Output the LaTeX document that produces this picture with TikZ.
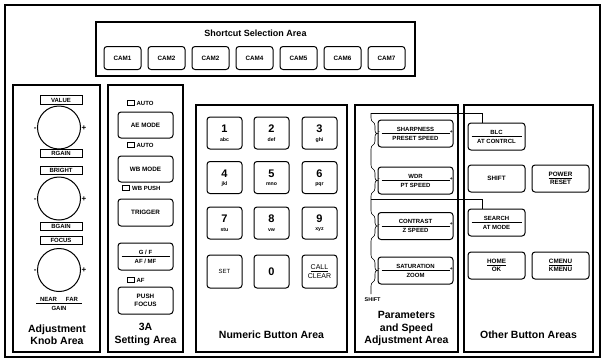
\documentclass[tikz,border=0pt]{standalone}
\usepackage{fontspec}
\setmainfont{Liberation Sans}
\usetikzlibrary{positioning}

\tikzset{
  area/.style={draw, line width=1.7pt},
  btn/.style={draw, rounded corners=3pt, line width=1pt, inner sep=0pt, align=center,
    font=\fontsize{6.3}{7.5}\selectfont\bfseries},
  tag/.style={draw, line width=1pt, inner sep=0pt, minimum width=42pt, minimum height=8.5pt,
    font=\fontsize{6}{6}\selectfont\bfseries},
  knob/.style={draw, circle, line width=1pt, minimum size=43pt, inner sep=0pt},
  title/.style={font=\fontsize{10.5}{12.5}\selectfont\bfseries, align=center, inner sep=0pt},
  small/.style={font=\fontsize{6}{6.5}\selectfont\bfseries, inner sep=0.5pt, align=center},
  sign/.style={font=\fontsize{8}{8}\selectfont\bfseries, inner sep=0.3pt},
  led/.style={draw, line width=0.8pt, minimum width=7pt, minimum height=5pt, inner sep=0pt},
  link/.style={line width=0.6pt},
}

% button with a ruled two-part label
\newcommand{\fracbtn}[5]{%
  \node[btn, minimum width=#3, minimum height=27pt] (#1) at (#2) {};
  \draw[line width=0.7pt] ([xshift=4pt]#1.west) -- ([xshift=-4pt]#1.east);
  \node[small, anchor=south] (#1top) at ([yshift=1.5pt]#1.center) {#4};
  \node[small, anchor=north] (#1bot) at ([yshift=-1.8pt]#1.center) {#5};
}
% key of the numeric pad
\newcommand{\digitkey}[4]{%
  \node[btn, minimum width=35pt, minimum height=32pt] (#1) at (#2) {};
  \node[font=\fontsize{11}{11}\selectfont\bfseries, inner sep=0pt] (#1d) at ([yshift=4pt]#1.center) {#3};
  \node[font=\fontsize{5.2}{5}\selectfont\bfseries, inner sep=0pt] (#1l) at ([yshift=-7pt]#1.center) {#4};
}

\begin{document}
\begin{tikzpicture}[x=1pt,y=-1pt]
\useasboundingbox (0,0) rectangle (605,362);
\draw[area] (5,5) rectangle (600,357);
% ---------- shortcut selection ----------
\draw[area] (96,22) rectangle (415,76);
\node[title, font=\fontsize{9}{11}\selectfont\bfseries] (sctitle) at (255.5,33) {Shortcut Selection Area};
\foreach \i/\t in {1/CAM1,2/CAM2,3/CAM2,4/CAM4,5/CAM5,6/CAM6,7/CAM7}
  \node[btn, minimum width=37pt, minimum height=23pt] (cam\i) at ({78.5+44*\i},58) {\t};
% ---------- adjustment knobs ----------
\draw[area] (13,85) rectangle (100,352);
\node[tag] (value) at (61,100) {VALUE};
\node[knob] (knobA) at (59,127.5) {};
\node[tag] (rgain) at (61,153.5) {RGAIN};
\node[tag] (bright) at (61,170.5) {BRIGHT};
\node[knob] (knobB) at (59,198.5) {};
\node[tag] (bgain) at (61,226.5) {BGAIN};
\node[tag] (focus) at (61,240.5) {FOCUS};
\node[knob] (knobC) at (59,270) {};
\foreach \k in {knobA,knobB,knobC} {
  \node[sign, anchor=east] (\k minus) at ([yshift=-1.5pt]\k.west) {-};
  \node[sign, anchor=west] (\k plus) at ([yshift=-0.5pt]\k.east) {+};
}
\node[small] (nearfar) at (59,299) {NEAR\hspace{9pt}FAR};
\draw[line width=0.7pt] (36,303.5) -- (82,303.5);
\node[small] (gain) at (59,308.5) {GAIN};
\node[title] (knobtitle) at (57,334.5) {Adjustment\\Knob Area};
% ---------- 3A setting ----------
\draw[area] (108,85) rectangle (183,352);
\node[led] (ledA) at (130.5,103) {};
\node[small, anchor=west] (autoA) at ([xshift=1.5pt]ledA.east) {AUTO};
\node[btn, minimum width=55pt, minimum height=26pt] (aemode) at (145.5,125) {AE MODE};
\node[led] (ledB) at (130.5,145) {};
\node[small, anchor=west] (autoB) at ([xshift=1.5pt]ledB.east) {AUTO};
\node[btn, minimum width=55pt, minimum height=26pt] (wbmode) at (145.5,169) {WB MODE};
\node[led] (ledC) at (126,188) {};
\node[small, anchor=west] (wbpush) at ([xshift=1.5pt]ledC.east) {WB PUSH};
\node[btn, minimum width=55pt, minimum height=27pt] (trigger) at (145.5,212.5) {TRIGGER};
\fracbtn{gfaf}{145.5,256.5}{55pt}{G / F}{AF / MF}
\node[led] (ledD) at (130.5,280) {};
\node[small, anchor=west] (af) at ([xshift=1.5pt]ledD.east) {AF};
\node[btn, minimum width=55pt, minimum height=27pt] (pushfocus) at (145.5,300.5) {PUSH\\FOCUS};
\node[title] (threeatitle) at (145.5,334.5) {3A\\Setting Area};
% ---------- numeric pad ----------
\draw[area] (196,105) rectangle (347,352);
\digitkey{k1}{224.5,133}{1}{abc}
\digitkey{k2}{271.5,133}{2}{def}
\digitkey{k3}{319.5,133}{3}{ghi}
\digitkey{k4}{224.5,177.5}{4}{jkl}
\digitkey{k5}{271.5,177.5}{5}{mno}
\digitkey{k6}{319.5,177.5}{6}{pqr}
\digitkey{k7}{224.5,223}{7}{stu}
\digitkey{k8}{271.5,223}{8}{vw}
\digitkey{k9}{319.5,223}{9}{xyz}
\node[btn, minimum width=35pt, minimum height=33pt, font=\fontsize{6}{7}\selectfont] (set) at (224.5,271.5) {SET};
\node[btn, minimum width=35pt, minimum height=33pt, font=\fontsize{11}{11}\selectfont\bfseries] (k0) at (271.5,271.5) {0};
\node[btn, minimum width=35pt, minimum height=33pt, font=\fontsize{7}{8.5}\selectfont] (call) at (319.5,271.5) {\underline{CALL}\\CLEAR};
\node[title] (numtitle) at (271.5,335) {Numeric Button Area};
% ---------- parameters and speed ----------
\draw[area] (355,105) rectangle (458,352);
\fracbtn{sharp}{415.5,133.5}{75pt}{SHARPNESS}{PRESET SPEED}
\fracbtn{wdr}{415.5,180.5}{75pt}{WDR}{PT SPEED}
\fracbtn{contrast}{415.5,226}{75pt}{CONTRAST}{Z SPEED}
\fracbtn{satur}{415.5,270.5}{75pt}{SATURATION}{ZOOM}
\foreach \b in {sharp,wdr,contrast,satur} {
  \node[small, font=\fontsize{5}{5}\selectfont\bfseries, anchor=west] (\b minus) at ([yshift=0.5pt]\b.west) {-};
  \node[small, font=\fontsize{5}{5}\selectfont\bfseries, anchor=east] (\b plus) at ([yshift=1.5pt]\b.east) {+};
}
\coordinate (brtop) at (371,113);
\coordinate (brmid) at (371,199);
\coordinate (brend) at (371,294);
\draw[link] (brtop) -- (371,118) .. controls (371,123) and (375,121) .. (375,126)
  -- (375,130) .. controls (375,133.5) and (377,133.5) .. (sharp.west)
  .. controls (377,133.5) and (375,133.5) .. (375,137) -- (375,141)
  .. controls (375,146) and (371,144) .. (371,149) -- (371,165)
  .. controls (371,170) and (375,168) .. (375,173) -- (375,177)
  .. controls (375,180.5) and (377,180.5) .. (wdr.west)
  .. controls (377,180.5) and (375,180.5) .. (375,184) -- (375,188)
  .. controls (375,193) and (371,191) .. (371,196) -- (brmid) -- (371,211)
  .. controls (371,216) and (375,214) .. (375,219) -- (375,223)
  .. controls (375,226) and (377,226) .. (contrast.west)
  .. controls (377,226) and (375,226) .. (375,229) -- (375,233)
  .. controls (375,238) and (371,236) .. (371,241) -- (371,255)
  .. controls (371,260) and (375,258) .. (375,263) -- (375,267)
  .. controls (375,270.5) and (377,270.5) .. (satur.west)
  .. controls (377,270.5) and (375,270.5) .. (375,274) -- (375,278)
  .. controls (375,283) and (371,281) .. (371,286) -- (brend);
\node[small, font=\fontsize{5.5}{6}\selectfont\bfseries, anchor=west] (shiftlbl) at (364,300) {SHIFT};
\node[title] (partitle) at (406.5,328.5) {Parameters\\and Speed\\Adjustment Area};
% ---------- other buttons ----------
\draw[area] (464,105) rectangle (593,352);
\fracbtn{blc}{496.5,136.5}{57pt}{BLC}{AT CONTRCL}
\node[btn, minimum width=57pt, minimum height=27pt] (shift) at (496.5,178.5) {SHIFT};
\node[btn, minimum width=57pt, minimum height=27pt] (power) at (560.5,178.5) {\underline{POWER}\\RESET};
\fracbtn{search}{496.5,222.5}{57pt}{SEARCH}{AT MODE}
\node[btn, minimum width=57pt, minimum height=27pt] (home) at (496.5,265.5) {\underline{HOME}\\OK};
\node[btn, minimum width=57pt, minimum height=27pt] (cmenu) at (560.5,265.5) {\underline{CMENU}\\KMENU};
\node[title] (othertitle) at (528.5,335) {Other Button Areas};
% shift links
\draw[link] (brtop) -| ([xshift=-14pt]blc.north);
\draw[link] (brmid) -| ([xshift=-14pt]search.north);
\end{tikzpicture}
\end{document}
